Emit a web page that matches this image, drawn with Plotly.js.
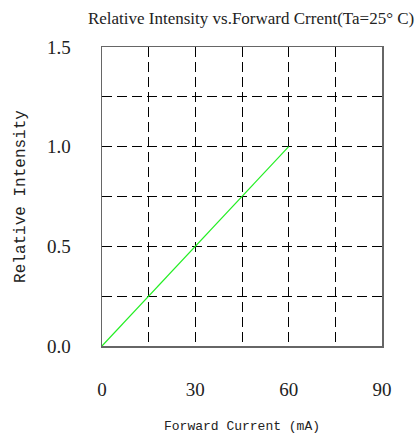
<!DOCTYPE html>
<html>
<head>
<meta charset="utf-8">
<script src="https://cdn.plot.ly/plotly-3.0.1.min.js"></script>
<style>html,body{margin:0;padding:0;background:#fff;}#chart{width:415px;height:437px;}</style>
</head>
<body>
<div id="chart"></div>
<script>
// Data
const forwardCurrent = [0, 60];          // mA
const relativeIntensity = [0, 1.0];
const xTickVals = [0, 15, 30, 45, 60, 75, 90];
const xTickText = ['0', '', '30', '', '60', '', '90'];
const yTickVals = [0, 0.25, 0.5, 0.75, 1.0, 1.25, 1.5];
const yTickText = ['0.0', '', '0.5', '', '1.0', '', '1.5'];

const trace = {
  x: forwardCurrent,
  y: relativeIntensity,
  type: 'scatter',
  mode: 'lines',
  line: {color: '#22ee22', width: 1.2},
  hoverinfo: 'skip'
};

const tickFont = {family: 'Liberation Serif, serif', size: 19, color: '#222'};

const layout = {
  width: 415,
  height: 437,
  margin: {l: 102, r: 33, t: 47, b: 91},
  paper_bgcolor: '#fff',
  plot_bgcolor: '#fff',
  showlegend: false,
  title: {
    text: 'Relative Intensity vs.Forward Crrent(Ta=25° C)',
    font: {family: 'Liberation Serif, serif', size: 17, color: '#222'},
    xref: 'container', yref: 'container',
    x: 0.605, xanchor: 'center',
    y: 1 - 18/437, yanchor: 'middle'
  },
  xaxis: {
    range: [0, 90],
    tickmode: 'array',
    tickvals: xTickVals,
    ticktext: xTickText,
    ticks: '',
    ticklabelstandoff: 26,
    tickfont: tickFont,
    showgrid: true,
    gridcolor: '#000',
    gridwidth: 1,
    griddash: '10px,5px',
    zeroline: false,
    showline: true,
    linecolor: '#666',
    linewidth: 1.5,
    mirror: true,
    title: {
      text: '\u00a0\u00a0Forward Current (mA)',
      font: {family: 'Liberation Mono, monospace', size: 13, color: '#222'},
      standoff: 21
    }
  },
  yaxis: {
    range: [0, 1.5],
    tickmode: 'array',
    tickvals: yTickVals,
    ticktext: yTickText,
    ticks: '',
    ticklabelstandoff: 26,
    tickfont: tickFont,
    showgrid: true,
    gridcolor: '#000',
    gridwidth: 1,
    griddash: '10px,5px',
    zeroline: false,
    showline: true,
    linecolor: '#666',
    linewidth: 1.5,
    mirror: true,
    title: {
      text: 'Relative Intensity\u00a0\u00a0\u00a0',
      font: {family: 'Liberation Mono, monospace', size: 16, color: '#222'},
      standoff: 17
    }
  }
};

Plotly.newPlot('chart', [trace], layout, {displayModeBar: false, staticPlot: true});
</script>
</body>
</html>
